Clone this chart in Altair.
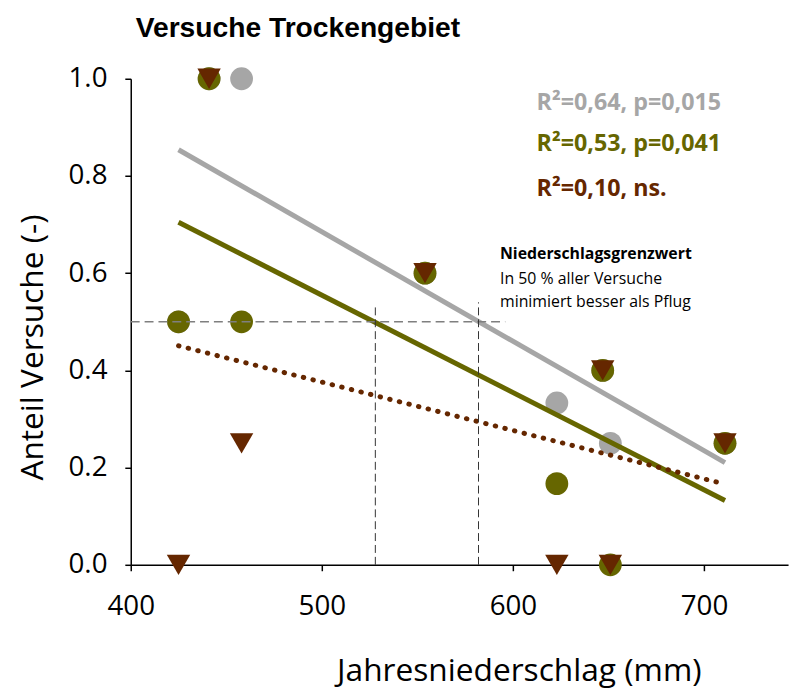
import altair as alt
import pandas as pd

# ---- data ----
x_mm = [425, 441, 458, 554, 623, 647, 651, 711]
anteil_gesamt = [0.5, 1.0, 1.0, 0.6, 0.333, 0.4, 0.25, 0.25]
anteil_gruen = [0.5, 1.0, 0.5, 0.6, 0.167, 0.4, 0.0, 0.25]
anteil_braun = [0.0, 1.0, 0.25, 0.6, 0.0, 0.4, 0.0, 0.25]

ref_h_x = [400, 596]
ref_h_y = [0.5, 0.5]
ref_v_x = [528, 582]
ref_v_top = [0.535, 0.54]

x_ticks = [400, 500, 600, 700]
y_ticks = [0.0, 0.2, 0.4, 0.6, 0.8, 1.0]

stat_texts = ["R²=0,64, p=0,015", "R²=0,53, p=0,041", "R²=0,10, ns."]
note_lines = ["Niederschlagsgrenzwert", "In 50 % aller Versuche", "minimiert besser als Pflug"]
title_text = "Versuche Trockengebiet"

GRAY = "#A6A6A6"
OLIVE = "#666600"
BROWN = "#652700"
FONT = "Open Sans"

df_g = pd.DataFrame({"x": x_mm, "y": anteil_gesamt})
df_o = pd.DataFrame({"x": x_mm, "y": anteil_gruen})
df_b = pd.DataFrame({"x": x_mm, "y": anteil_braun})

xs = alt.Scale(domain=[400, 744], nice=False, zero=False)
ys = alt.Scale(domain=[0, 1], nice=False)

ax_x = alt.Axis(values=x_ticks, format="d", title="Jahresniederschlag (mm)",
                grid=False, tickSize=6, labelPadding=22, labelFlush=False,
                titleX=392, titleY=107, titleAlign="center", titleBaseline="middle")
ax_y = alt.Axis(values=y_ticks, format=".1f", title="Anteil Versuche (-)",
                grid=False, tickSize=6, labelPadding=18, labelFlush=False,
                titleX=-99, titleY=271, titleAlign="center", titleBaseline="middle")


def X(f="x"):
    return alt.X(f, type="quantitative", scale=xs, axis=ax_x)


def Y(f="y"):
    return alt.Y(f, type="quantitative", scale=ys, axis=ax_y)


pts_g = alt.Chart(df_g).mark_circle(size=530, opacity=1, color=GRAY).encode(x=X(), y=Y())
pts_o = alt.Chart(df_o).mark_circle(size=530, opacity=1, color=OLIVE).encode(x=X(), y=Y())
pts_b = alt.Chart(df_b).mark_point(shape="triangle-down", size=560, filled=True,
                                   opacity=1, color=BROWN).encode(x=X(), y=Y())

reg_g = alt.Chart(df_g).transform_regression("x", "y").mark_line(
    color=GRAY, strokeWidth=5).encode(x=X(), y=Y())
reg_o = alt.Chart(df_o).transform_regression("x", "y").mark_line(
    color=OLIVE, strokeWidth=5).encode(x=X(), y=Y())
reg_b = alt.Chart(df_b).transform_regression("x", "y").mark_line(
    color=BROWN, strokeWidth=5, strokeDash=[0.5, 9.5], strokeCap="round").encode(x=X(), y=Y())

ref_h = alt.Chart(pd.DataFrame({"x": ref_h_x, "y": ref_h_y})).mark_line(
    color="#7F7F7F", strokeWidth=1.5, strokeDash=[9, 5]).encode(x=X(), y=Y())
ref_v = alt.Chart(pd.DataFrame({"x": ref_v_x, "top": ref_v_top, "bottom": [0, 0]})).mark_rule(
    color="#333333", strokeWidth=1, strokeDash=[8, 4]).encode(x=X(), y=Y("bottom"), y2="top:Q")

stat_colors = [GRAY, OLIVE, BROWN]
stat_y = [25, 66, 111]
stats = [
    alt.Chart(pd.DataFrame({"t": [t]})).mark_text(
        align="left", baseline="middle", font=FONT, fontSize=23.5, fontWeight="bold", color=c
    ).encode(x=alt.value(410), y=alt.value(yy), text="t:N")
    for t, c, yy in zip(stat_texts, stat_colors, stat_y)
]

note_y = [177, 202, 226]
notes = [
    alt.Chart(pd.DataFrame({"t": [t]})).mark_text(
        align="left", baseline="middle", font=FONT, fontSize=16,
        fontWeight=("bold" if i == 0 else "normal"), color="black"
    ).encode(x=alt.value(373), y=alt.value(yy), text="t:N")
    for i, (t, yy) in enumerate(zip(note_lines, note_y))
]

title = alt.Chart(pd.DataFrame({"t": [title_text]})).mark_text(
    align="left", baseline="alphabetic", font="Liberation Sans", fontSize=28.5,
    fontWeight="bold", color="black"
).encode(x=alt.value(5), y=alt.value(-42), text="t:N")

chart = alt.layer(
    pts_g, pts_o, pts_b, reg_g, reg_o, reg_b, ref_h, ref_v, *stats, *notes, title
).properties(
    width=664, height=491,
    autosize=alt.AutoSizeParams(type="none"),
    padding={"left": 124, "top": 68, "right": 6, "bottom": 122},
).configure_view(stroke=None).configure_axis(
    labelFont=FONT, titleFont=FONT, labelFontSize=28, titleFontSize=32,
    titleFontWeight="normal", labelColor="black", titleColor="black",
    domainColor="black", tickColor="black", domainWidth=1.5, tickWidth=1.5,
)

chart.save("out.html", embed_options={"renderer": "svg", "actions": False})
